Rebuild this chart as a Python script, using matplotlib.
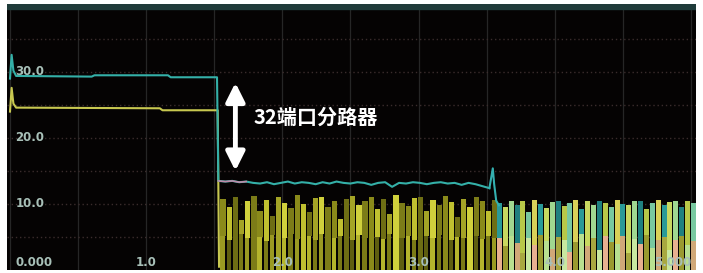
import numpy as np
import matplotlib.pyplot as plt

plt.rcParams['font.family'] = ['Noto Sans CJK SC', 'DejaVu Sans']

# traces before the splitter (cyan + yellow)
cyan_x = [0.000, 0.012, 0.025, 0.045, 0.60, 0.62, 1.16, 1.18, 1.520]
cyan_y = [29.0, 32.6, 30.2, 29.4, 29.3, 29.5, 29.5, 29.2, 29.2]
yellow_x = [0.000, 0.012, 0.025, 0.045, 1.10, 1.12, 1.525, 1.535]
yellow_y = [24.0, 27.6, 25.2, 24.6, 24.5, 24.2, 24.2, 0.5]

# cyan after the 32 port splitter
cyan2_y = [13.5, 13.4, 13.5, 13.3, 13.4, 13.2, 13.1, 13.3, 13.0, 13.2,
           13.4, 13.1, 13.3, 13.2, 13.0, 13.3, 13.1, 13.4, 13.2, 13.1,
           13.3, 13.2, 12.9, 13.2, 13.3, 12.6, 13.2, 13.1, 13.3, 13.2,
           13.0, 13.2, 13.3, 13.1, 13.2, 12.9, 13.2, 13.0, 12.7, 12.4]
spike_x = [3.52, 3.545, 3.555, 3.57, 3.59]
spike_y = [12.4, 15.4, 13.0, 10.5, 9.8]

# yellow noise (1.54 .. 3.55)
yel_top = [10.8, 9.5, 11.0, 7.5, 10.5, 11.2, 9.0, 10.6, 8.2, 11.0,
           10.2, 9.4, 11.3, 10.0, 8.8, 10.9, 11.1, 9.6, 10.4, 7.8,
           10.8, 11.2, 9.8, 10.5, 11.0, 9.2, 10.7, 8.5, 11.3, 10.1,
           9.7, 10.9, 11.0, 8.9, 10.6, 9.9, 11.2, 10.3, 8.0, 10.8,
           9.5, 11.1, 10.4, 9.0, 10.6]
yel_low = [5.2, 4.6, 0.0, 5.4, 4.8, 0.0, 5.0, 4.4, 5.3, 0.0,
           4.9, 5.5, 4.7, 0.0, 5.1, 4.5, 5.4, 0.0, 4.8, 5.2,
           0.0, 4.6, 5.3, 4.9, 0.0, 5.0, 4.7, 5.4, 0.0, 4.8,
           5.1, 4.5, 0.0, 5.2, 4.9, 5.3, 0.0, 4.6, 5.0, 4.8,
           0.0, 5.2, 4.7, 5.1, 4.9]

# mixed noise after 3.56
mix_top = [10.2, 9.6, 10.5, 9.9, 10.4, 8.8, 10.6, 10.0, 9.4, 10.3,
           10.5, 9.7, 10.1, 10.6, 9.2, 10.4, 9.9, 10.5, 10.2, 9.5,
           10.6, 10.0, 9.8, 10.4, 10.5, 9.3, 10.2, 10.6, 9.9, 10.3,
           10.5, 9.6, 10.4, 10.1]
mix_low = [4.8, 3.6, 5.2, 4.1, 2.5, 4.9, 3.8, 5.3, 4.4, 3.2,
           5.0, 4.6, 2.8, 4.2, 5.4, 3.7, 4.8, 3.0, 5.1, 4.3,
           3.9, 5.2, 2.6, 4.7, 4.0, 5.3, 3.4, 4.5, 5.0, 3.1,
           4.6, 5.2, 3.8, 4.4]

x_ticks = [0.0, 1.0, 2.0, 3.0, 4.0, 5.0]
x_labels = ['0.000', '1.0', '2.0', '3.0', '4.0', '5.000']
y_ticks = [30.0, 20.0, 10.0]
y_labels = ['30.0', '20.0', '10.0']

fig = plt.figure(figsize=(7.03, 2.73), dpi=100, facecolor='white')
ax = fig.add_axes([7 / 703, 3 / 273, 689 / 703, 266 / 273])
ax.set_facecolor('#050303')
ax.set_xlim(-0.022, 5.037)
ax.set_ylim(0, 40.3)
ax.set_xticks([])
ax.set_yticks([])
for s in ax.spines.values():
    s.set_visible(False)

# grid
for gx in np.arange(0, 5.01, 0.5):
    ax.axvline(gx, color='#262626', lw=0.9, zorder=1)
for gy in np.arange(5, 40, 5):
    ax.axhline(gy, color='#3a2c2c', lw=1, ls=(0, (1, 2)), zorder=1)
ax.axhspan(39.6, 40.3, color='#1f3b3a', zorder=1)

# yellow noise bars
yel_pos = np.linspace(1.545, 3.54, len(yel_top))
w = (yel_pos[1] - yel_pos[0]) * 0.85
up_cols = ['#8a8a1a', '#c0c030', '#6e6e14', '#a4a426', '#d0d03c', '#7c7c18']
lo_cols = ['#9a9a22', '#5e5e10', '#b4b42c', '#7a7a16']
for i, (p, t, lo) in enumerate(zip(yel_pos, yel_top, yel_low)):
    ax.bar(p, t - lo, bottom=lo, width=w, color=up_cols[i % len(up_cols)],
           align='edge', zorder=2)
    if lo > 0:
        ax.bar(p, lo, width=w * 0.8, color=lo_cols[i % len(lo_cols)],
               align='edge', zorder=2)

# mixed noise bars
mix_pos = np.linspace(3.575, 5.0, len(mix_top))
w2 = (mix_pos[1] - mix_pos[0]) * 0.85
mup_cols = ['#2a9a98', '#c8d860', '#a0d890', '#1f8080', '#b8c848', '#78c8a0', '#d8d058']
mlo_cols = ['#e8b090', '#9a9a30', '#b8e090', '#d0a878', '#a8a840', '#c8e8a0']
for i, (p, t, lo) in enumerate(zip(mix_pos, mix_top, mix_low)):
    ax.bar(p, t - lo, bottom=lo, width=w2, color=mup_cols[i % len(mup_cols)],
           align='edge', zorder=2)
    ax.bar(p, lo, width=w2, color=mlo_cols[i % len(mlo_cols)],
           align='edge', zorder=2)

# traces
ax.plot(yellow_x, yellow_y, color='#c8c850', lw=1.5, zorder=3)
cyan2_x = np.linspace(1.53, 3.52, len(cyan2_y))
ax.plot(cyan_x + list(cyan2_x), cyan_y + cyan2_y, color='#34b0a8', lw=1.5, zorder=3)
ax.plot(cyan2_x[:5], cyan2_y[:5], color='#c08aa8', lw=1.2, zorder=4)
ax.plot(spike_x, spike_y, color='#34b0b0', lw=1.5, zorder=3)

# tick labels inside the screen
lab_kw = dict(color='#a8c0b8', fontsize=8.5, fontweight='bold', zorder=5,
              family=['DejaVu Sans'])
for xt, xl in zip(x_ticks, x_labels):
    ha = 'left' if xt == 0 else ('right' if xt == 5 else 'center')
    ax.text(xt + (0.04 if xt == 0 else 0), 1.1, xl, ha=ha, va='center', **lab_kw)
for yt, yl in zip(y_ticks, y_labels):
    ax.text(0.04, yt, yl, ha='left', va='center', **lab_kw)

# annotation
ax.annotate('', xy=(1.655, 14.6), xytext=(1.655, 28.8),
            arrowprops=dict(arrowstyle='<|-|>', color='white', lw=3.5,
                            mutation_scale=28), zorder=6)
ax.text(1.79, 23.2, '32端口分路器', color='white', fontsize=14.5,
        fontweight='bold', va='center', ha='left', zorder=6)

fig.savefig('out.png', dpi=100, facecolor='white')
